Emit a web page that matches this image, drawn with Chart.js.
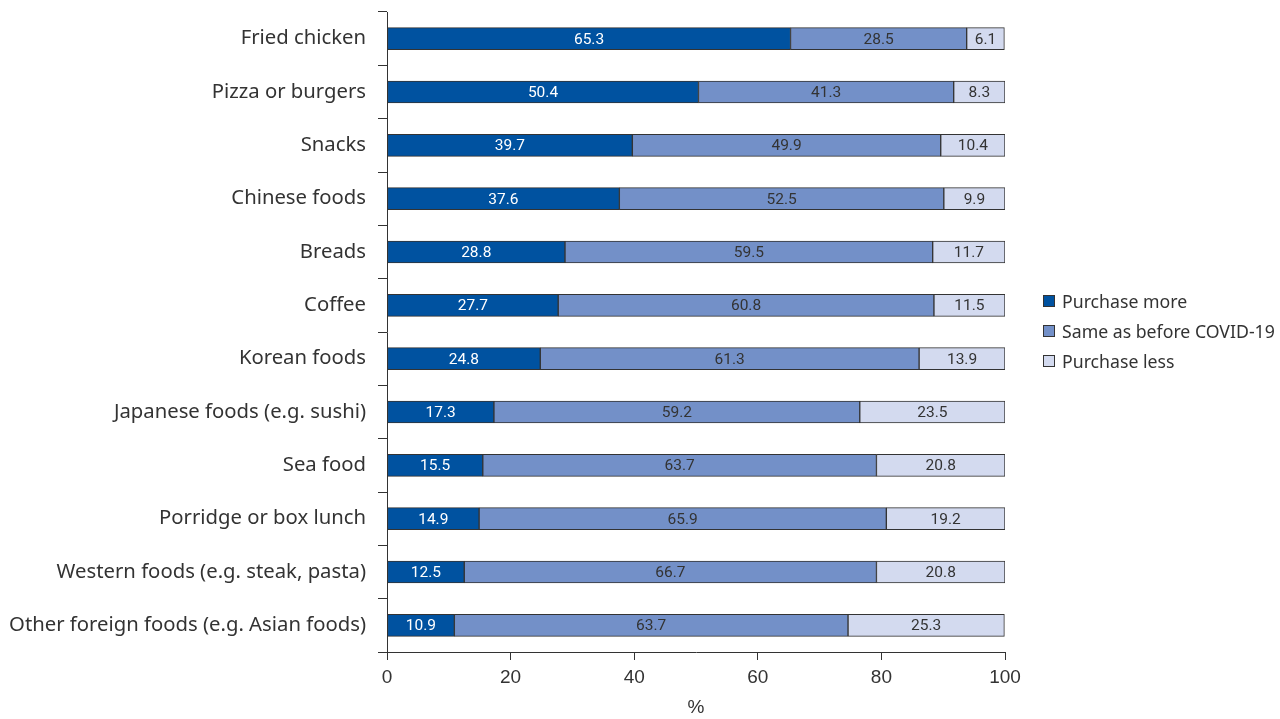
<!DOCTYPE html>
<html><head><meta charset="utf-8">
<script src="https://cdn.jsdelivr.net/npm/chart.js@4"></script>
<style>
html,body{margin:0;padding:0;background:#fff;}
#wrap{position:relative;width:1280px;height:719px;}
#legend{position:absolute;left:1043px;top:286px;font-family:"Noto Sans",sans-serif;font-size:17.7px;color:#333;}
#legend div{height:30px;line-height:24px;display:flex;align-items:center;}
#legend span.b{display:inline-block;width:12px;height:12px;border:1px solid #333;margin-right:7px;box-sizing:border-box;}
</style></head>
<body><div id="wrap"><canvas id="c" width="1280" height="719"></canvas>
<div id="legend"></div></div>
<script>
const categories = ["Fried chicken","Pizza or burgers","Snacks","Chinese foods","Breads","Coffee","Korean foods","Japanese foods (e.g. sushi)","Sea food","Porridge or box lunch","Western foods (e.g. steak, pasta)","Other foreign foods (e.g. Asian foods)"];
const purchaseMore = [65.3,50.4,39.7,37.6,28.8,27.7,24.8,17.3,15.5,14.9,12.5,10.9];
const sameAsBefore = [28.5,41.3,49.9,52.5,59.5,60.8,61.3,59.2,63.7,65.9,66.7,63.7];
const purchaseLess = [6.1,8.3,10.4,9.9,11.7,11.5,13.9,23.5,20.8,19.2,20.8,25.3];
const seriesNames = ["Purchase more","Same as before COVID-19","Purchase less"];
const xTicks = [0,20,40,60,80,100];

const colors = ["#0052a0","#7390c8","#d3daef"];
const labelColors = ["#ffffff","#333333","#333333"];

const leg = document.getElementById('legend');
seriesNames.forEach((n,i)=>{const d=document.createElement('div');d.innerHTML='<span class="b" style="background:'+colors[i]+'"></span>'+n;leg.appendChild(d);});

const labelPlugin = {
  id:'segLabels',
  afterDatasetsDraw(chart){
    const ctx=chart.ctx;
    ctx.save();
    ctx.font='15.5px Roboto, "Liberation Sans", sans-serif';
    ctx.textAlign='center';ctx.textBaseline='middle';
    chart.data.datasets.forEach((ds,di)=>{
      const meta=chart.getDatasetMeta(di);
      meta.data.forEach((el,i)=>{
        const x=(el.x+el.base)/2;
        ctx.fillStyle=labelColors[di];
        ctx.fillText(ds.data[i].toFixed(1),x,el.y+1);
      });
    });
    ctx.restore();
  }
};

new Chart(document.getElementById('c'),{
  type:'bar',
  data:{labels:categories,datasets:[purchaseMore,sameAsBefore,purchaseLess].map((d,i)=>({label:seriesNames[i],data:d,backgroundColor:colors[i],borderColor:'#333',borderWidth:1,borderSkipped:false,barThickness:22}))},
  options:{
    indexAxis:'y',responsive:false,animation:false,
    layout:{padding:{left:0,top:12,right:275,bottom:0}},
    plugins:{legend:{display:false},tooltip:{enabled:false}},
    scales:{
      x:{stacked:true,min:0,max:100,
        afterFit(s){s.height=67;},
        afterBuildTicks(s){s.ticks=xTicks.map(v=>({value:v}));},
        ticks:{color:'#333',font:{family:'"Liberation Sans", Arial, sans-serif',size:19},padding:6,maxRotation:0},
        grid:{drawOnChartArea:false,tickLength:8,color:'#333'},
        border:{display:true,color:'#333'},
        title:{display:true,text:'%',color:'#333',font:{family:'"Liberation Sans", Arial, sans-serif',size:19},padding:{top:8,bottom:0}}
      },
      y:{stacked:true,
        afterFit(s){s.width=387;s.paddingTop=0;s.paddingBottom=0;},
        ticks:{color:'#333',font:{family:'"Noto Sans", sans-serif',size:20.3},padding:12},
        grid:{drawOnChartArea:false,offset:true,tickLength:9,color:'#333'},
        border:{display:true,color:'#333'}
      }
    }
  },
  plugins:[labelPlugin]
});
</script></body></html>
